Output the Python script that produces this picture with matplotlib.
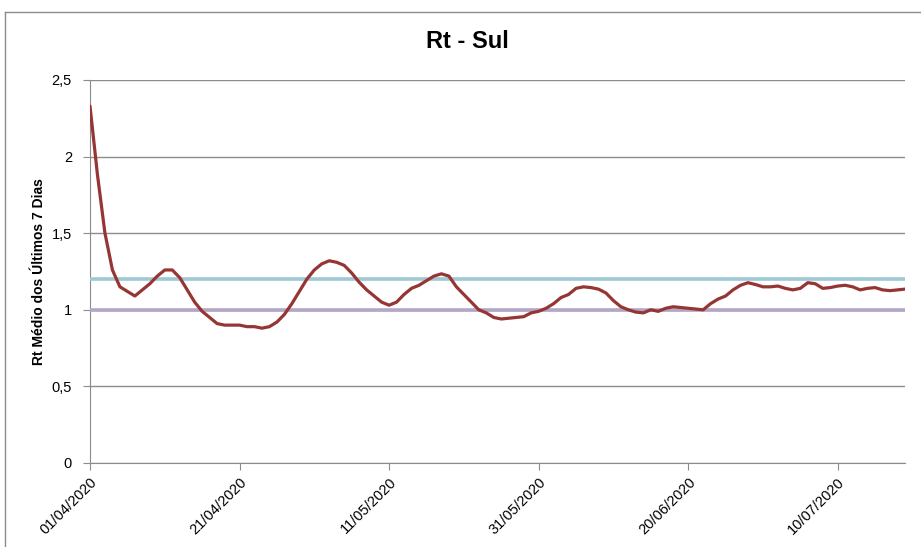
import datetime as dt
import matplotlib
matplotlib.use("Agg")
import matplotlib.pyplot as plt
import matplotlib.dates as mdates
from matplotlib.lines import Line2D

start = dt.date(2020, 4, 1)
rt_values = [
    2.33, 1.88, 1.50, 1.26, 1.15, 1.12, 1.09, 1.13, 1.17, 1.22,
    1.26, 1.26, 1.21, 1.13, 1.05, 0.99, 0.95, 0.91, 0.90, 0.90,
    0.90, 0.89, 0.89, 0.88, 0.89, 0.92, 0.97, 1.04, 1.12, 1.20,
    1.26, 1.30, 1.32, 1.31, 1.29, 1.24, 1.18, 1.13, 1.09, 1.05,
    1.03, 1.05, 1.10, 1.14, 1.16, 1.19, 1.22, 1.235, 1.22, 1.15,
    1.10, 1.05, 1.00, 0.98, 0.95, 0.94, 0.945, 0.95, 0.955, 0.98,
    0.99, 1.01, 1.04, 1.08, 1.10, 1.14, 1.15, 1.145, 1.135, 1.11,
    1.06, 1.02, 1.00, 0.985, 0.98, 1.00, 0.99, 1.01, 1.02, 1.015,
    1.01, 1.005, 1.00, 1.04, 1.07, 1.09, 1.13, 1.16, 1.177, 1.165,
    1.15, 1.15, 1.155, 1.14, 1.13, 1.14, 1.177, 1.17, 1.14, 1.145,
    1.155, 1.16, 1.15, 1.13, 1.14, 1.145, 1.13, 1.125, 1.13, 1.135,
]
dates = [start + dt.timedelta(days=i) for i in range(len(rt_values))]
upper_ref = [1.2] * len(dates)
lower_ref = [1.0] * len(dates)

tick_dates = [dt.date(2020, 4, 1), dt.date(2020, 4, 21), dt.date(2020, 5, 11),
              dt.date(2020, 5, 31), dt.date(2020, 6, 20), dt.date(2020, 7, 10)]
y_ticks = [0, 0.5, 1, 1.5, 2, 2.5]
y_labels = ["0", "0,5", "1", "1,5", "2", "2,5"]

plt.rcParams["font.family"] = ["Liberation Sans", "DejaVu Sans"]

fig = plt.figure(figsize=(9.21, 5.47), dpi=100)
ax = fig.add_axes([90 / 921, 84 / 547, 815 / 921, 383 / 547])

# chart area border
fig.add_artist(Line2D([5 / 921, 5 / 921], [0, 1 - 12 / 547], transform=fig.transFigure,
                      color="#8c8c8c", lw=1))
fig.add_artist(Line2D([5 / 921, 1], [1 - 12 / 547, 1 - 12 / 547], transform=fig.transFigure,
                      color="#8c8c8c", lw=1))

ax.plot(dates, upper_ref, color="#9dc8d4", lw=2.6, zorder=3)
ax.plot(dates, lower_ref, color="#b3a6c6", lw=2.6, zorder=3)
ax.plot(dates, rt_values, color="#963634", lw=2.3, zorder=4, solid_capstyle="round")

ax.set_ylim(0, 2.5)
ax.set_xlim(dates[0], dates[-1] + dt.timedelta(days=0.3))
ax.set_yticks(y_ticks)
ax.set_yticklabels(y_labels, fontsize=10.5)
ax.set_xticks(tick_dates)
ax.xaxis.set_major_formatter(mdates.DateFormatter("%d/%m/%Y"))
for lbl in ax.get_xticklabels():
    lbl.set_rotation(45)
    lbl.set_ha("right")
    lbl.set_rotation_mode("anchor")
    lbl.set_fontsize(10.5)

ax.grid(axis="y", color="#8c8c8c", lw=1)
ax.set_axisbelow(True)
for side in ["top", "right"]:
    ax.spines[side].set_visible(False)
for side in ["left", "bottom"]:
    ax.spines[side].set_color("#8c8c8c")
ax.tick_params(axis="both", color="#8c8c8c", length=5, direction="out")
ax.tick_params(axis="y", pad=8)

ax.set_ylabel("Rt Médio dos Últimos 7 Dias", fontsize=10, fontweight="bold", labelpad=4)
fig.text(467 / 921, 1 - 42 / 547, "Rt - Sul", ha="center", va="center",
         fontsize=17, fontweight="bold")

fig.savefig("out.png", dpi=100)
